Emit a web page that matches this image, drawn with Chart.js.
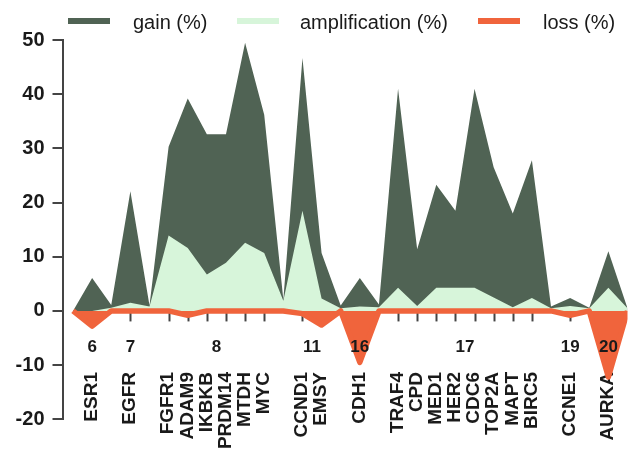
<!DOCTYPE html>
<html>
<head>
<meta charset="utf-8">
<script src="https://cdn.jsdelivr.net/npm/chart.js@4"></script>
<style>
  html, body { margin: 0; padding: 0; background: #ffffff; }
  #wrap { width: 630px; height: 450px; position: relative; }
</style>
</head>
<body>
<div id="wrap"><canvas id="c" width="630" height="450"></canvas></div>
<script>
// ---- data ----
const slotLabels = ['', 'ESR1', '', 'EGFR', '', 'FGFR1', 'ADAM9', 'IKBKB', 'PRDM14', 'MTDH', 'MYC', '',
  'CCND1', 'EMSY', '', 'CDH1', '', 'TRAF4', 'CPD', 'MED1', 'HER2', 'CDC6', 'TOP2A', 'MAPT', 'BIRC5', '',
  'CCNE1', '', 'AURKA', ''];
const gain = [0, 6.1, 1.1, 22.1, 1.0, 30.3, 39.2, 32.6, 32.6, 49.5, 36.2, 2.1,
  46.7, 10.7, 1.0, 6.1, 1.2, 41.0, 11.4, 23.3, 18.5, 41.0, 26.5, 18.0, 27.8, 0.8,
  2.4, 0.6, 11.0, 0.5];
const amplification = [0, 0, 0.6, 1.5, 0.8, 13.9, 11.6, 6.7, 8.9, 12.6, 10.7, 1.9,
  18.5, 2.3, 0.5, 0.8, 0.7, 4.3, 0.9, 4.3, 4.3, 4.3, 2.5, 0.7, 2.4, 0.5,
  0.9, 0.5, 4.3, 0.5];
const loss = [0, -2.8, 0, 0, 0, 0, -0.8, 0, 0, 0, 0, 0,
  -0.5, -2.6, 0, -9.5, 0, 0, 0, 0, 0, 0, 0, 0, 0, 0,
  -0.8, 0, -12.2, 0];
const chromNames = ['6', '7', '8', '11', '16', '17', '19', '20'];
const chromCenters = [1, 3, 7.5, 12.5, 15, 20.5, 26, 28];
const seriesNames = ['gain (%)', 'amplification (%)', 'loss (%)'];
const yTicks = { min: -20, max: 50, step: 10 };

// ---- styles ----
const DARK = '#506354';
const LIGHT = '#d7f5da';
const ORANGE = '#f0643c';
const AXIS = '#444444';
const TEXT = '#1a1a1a';
const FONT = '"Liberation Sans", Arial, Helvetica, sans-serif';

const toPts = arr => arr.map((v, i) => ({ x: i, y: v }));

const annot = {
  id: 'annot',
  beforeDatasetsDraw(chart) {
    const { ctx, scales: { x, y } } = chart;
    const y0 = y.getPixelForValue(0);
    ctx.save();
    // small tick marks below zero line at gene positions
    ctx.strokeStyle = AXIS;
    ctx.lineWidth = 2;
    slotLabels.forEach((lab, i) => {
      if (!lab) return;
      const px = Math.round(x.getPixelForValue(i)) + 0.5;
      ctx.beginPath();
      ctx.moveTo(px, y0);
      ctx.lineTo(px, y0 + 10.5);
      ctx.stroke();
    });
    // gene labels (rotated, reading bottom to top)
    ctx.fillStyle = TEXT;
    ctx.font = 'bold 19px ' + FONT;
    ctx.textAlign = 'right';
    ctx.textBaseline = 'alphabetic';
    slotLabels.forEach((lab, i) => {
      if (!lab) return;
      const px = x.getPixelForValue(i);
      ctx.save();
      ctx.translate(px + 4.8, 372);
      ctx.rotate(-Math.PI / 2);
      ctx.fillText(lab, 0, 0);
      ctx.restore();
    });
    ctx.restore();
  },
  afterDraw(chart) {
    const { ctx, scales: { x } } = chart;
    ctx.save();
    // chromosome labels
    ctx.fillStyle = TEXT;
    ctx.font = 'bold 17px ' + FONT;
    ctx.textAlign = 'center';
    ctx.textBaseline = 'alphabetic';
    chromNames.forEach((n, i) => {
      ctx.fillText(n, x.getPixelForValue(chromCenters[i]), 352);
    });
    // legend
    const swX = [68, 237, 478];
    const txX = [133, 300, 543];
    const cols = [DARK, LIGHT, ORANGE];
    ctx.font = '20px ' + FONT;
    ctx.textAlign = 'left';
    chart.data.datasets.forEach((ds, i) => {
      ctx.fillStyle = cols[i];
      ctx.fillRect(swX[i], 18, 42, 6);
      ctx.fillStyle = TEXT;
      ctx.fillText(ds.label, txX[i], 29);
    });
    ctx.restore();
  }
};

new Chart(document.getElementById('c'), {
  type: 'line',
  data: {
    datasets: [
      { label: seriesNames[0], data: toPts(gain), order: 3, fill: 'origin',
        backgroundColor: DARK, borderColor: DARK, borderWidth: 0, pointRadius: 0, tension: 0 },
      { label: seriesNames[1], data: toPts(amplification), order: 2, fill: 'origin',
        backgroundColor: LIGHT, borderColor: LIGHT, borderWidth: 0, pointRadius: 0, tension: 0 },
      { label: seriesNames[2], data: toPts(loss), order: 1, fill: 'origin',
        backgroundColor: ORANGE, borderColor: ORANGE, borderWidth: 5.5, pointRadius: 0, tension: 0,
        borderJoinStyle: 'round' }
    ]
  },
  options: {
    responsive: false,
    animation: false,
    events: [],
    layout: { padding: { top: 40, bottom: 30.7, left: 0, right: 2.5 } },
    plugins: { legend: { display: false }, tooltip: { enabled: false } },
    scales: {
      x: { type: 'linear', min: -0.55, max: 29, display: false },
      y: {
        min: yTicks.min, max: yTicks.max,
        afterFit(scale) { scale.width = 62.5; },
        ticks: { stepSize: yTicks.step, color: TEXT, padding: 8,
          font: { family: FONT, size: 20, weight: 'bold' } },
        grid: { display: true, drawOnChartArea: false, drawTicks: true, tickLength: 10,
          color: AXIS, lineWidth: 2 },
        border: { display: true, color: AXIS, width: 2 }
      }
    }
  },
  plugins: [annot]
});
</script>
</body>
</html>
